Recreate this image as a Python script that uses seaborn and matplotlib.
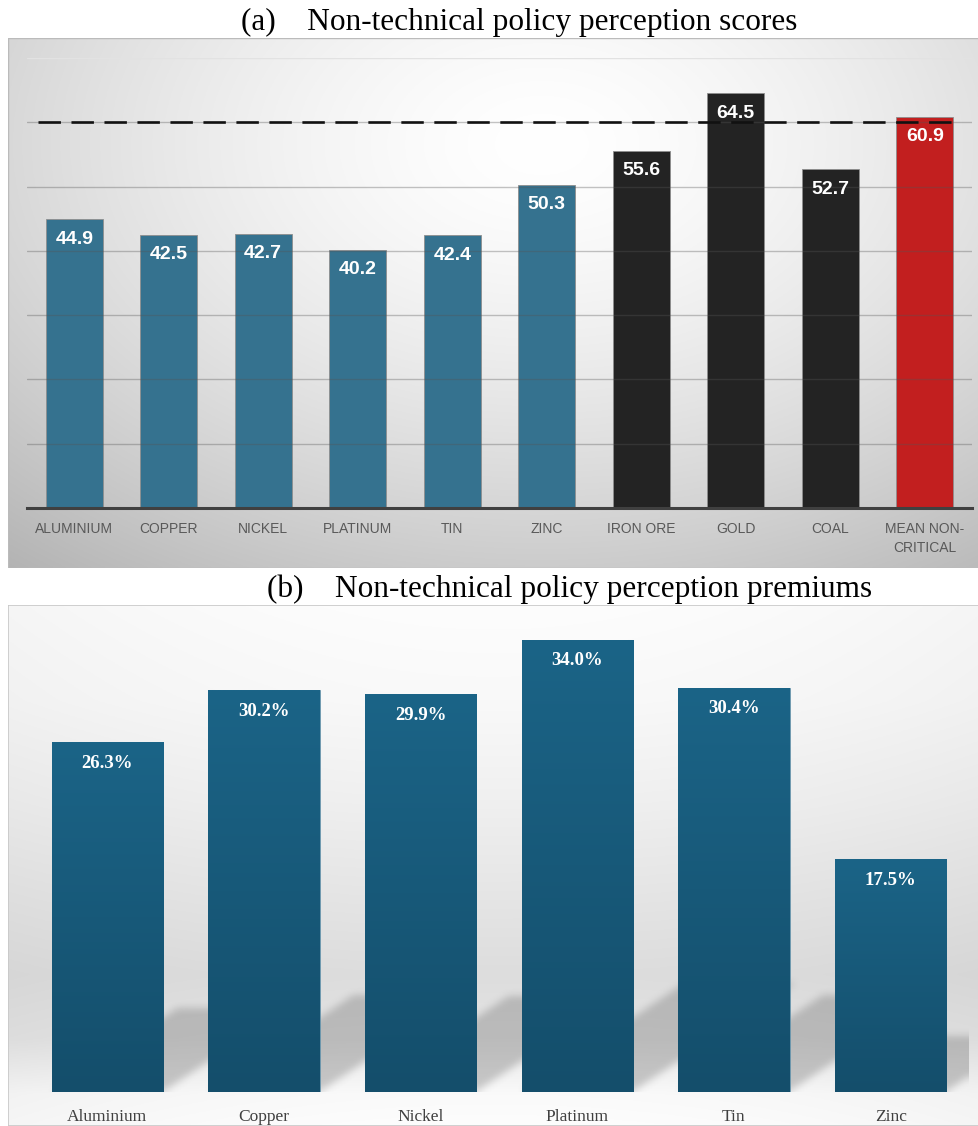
import numpy as np
import pandas as pd
import matplotlib
matplotlib.use("Agg")
import matplotlib.pyplot as plt
from matplotlib.patches import Rectangle
from matplotlib.path import Path
import seaborn as sns

# data, panel (a)
score_labels = ["ALUMINIUM", "COPPER", "NICKEL", "PLATINUM", "TIN", "ZINC",
                "IRON ORE", "GOLD", "COAL", "MEAN NON-\nCRITICAL"]
score_values = [44.9, 42.5, 42.7, 40.2, 42.4, 50.3, 55.6, 64.5, 52.7, 60.9]
score_groups = ["critical"] * 6 + ["non-critical"] * 3 + ["mean"]
mean_line = 60.0

# data, panel (b)
premium_labels = ["Aluminium", "Copper", "Nickel", "Platinum", "Tin", "Zinc"]
premium_values = [26.3, 30.2, 29.9, 34.0, 30.4, 17.5]

group_colors = {"critical": "#35728F", "non-critical": "#232323", "mean": "#C21F1F"}

sns.set_theme(style="white")
plt.rcParams["font.family"] = ["Liberation Serif", "DejaVu Serif"]

W, H = 979, 1126
fig = plt.figure(figsize=(W / 100, H / 100), dpi=100)

def fx(px):
    return px / W

def fy(px):
    return 1 - px / H

def box_blur(a, r):
    # separable box blur, applied twice for a softer edge
    for _ in range(2):
        for axis in (0, 1):
            pad = [(0, 0), (0, 0)]
            pad[axis] = (r, r)
            b = np.pad(a, pad, mode="edge")
            c = np.cumsum(b, axis=axis)
            c = np.insert(c, 0, 0, axis=axis)
            n = a.shape[axis]
            a = (np.take(c, np.arange(2 * r + 1, n + 2 * r + 1), axis=axis)
                 - np.take(c, np.arange(0, n), axis=axis)) / (2 * r + 1)
    return a

# ---------- panel (a) background ----------
bg_a = fig.add_axes([fx(8), fy(568), fx(971), 530 / H])
yy, xx = np.mgrid[0:1:300j, 0:1:500j]
r = np.sqrt(((xx - 0.55) / 0.75) ** 2 + ((yy - 0.2) / 0.9) ** 2)
shade = 1.0 - 0.24 * np.clip(r, 0, 1.2) ** 1.5
bg_a.imshow(np.dstack([shade] * 3), extent=[0, 1, 0, 1], aspect="auto", origin="upper")
bg_a.set_axis_off()
bg_a.add_patch(Rectangle((0, 0), 1, 1, transform=bg_a.transAxes, fill=False,
                         edgecolor="#BBBBBB", lw=1))

ax_a = fig.add_axes([fx(27), fy(508), fx(945), 450 / H])
ax_a.set_facecolor("none")
df_a = pd.DataFrame({"item": score_labels, "score": score_values, "group": score_groups})
sns.barplot(data=df_a, x="item", y="score", hue="item",
            palette=[group_colors[g] for g in score_groups],
            width=0.6, legend=False, ax=ax_a, saturation=1,
            edgecolor="#8E8E8E", linewidth=0.6)
ax_a.set_xlim(-0.5, len(score_labels) - 0.5)
ax_a.set_ylim(0, 70)
ax_a.set_yticks(np.arange(10, 70, 10))
ax_a.set_axisbelow(False)
ax_a.yaxis.grid(True, color="#555555", alpha=0.35, lw=1)
ax_a.axhline(70, color="#E2E2E2", lw=1, zorder=0)
ax_a.tick_params(axis="y", left=False, labelleft=False)
ax_a.tick_params(axis="x", bottom=False, pad=4)
for s in ["top", "right", "left"]:
    ax_a.spines[s].set_visible(False)
ax_a.spines["bottom"].set_color("#404040")
ax_a.spines["bottom"].set_linewidth(2.2)
ax_a.set_xlabel("")
ax_a.set_ylabel("")
ax_a.set_xticks(range(len(score_labels)))
ax_a.set_xticklabels(score_labels, family=["Liberation Sans Narrow", "Liberation Sans"],
                     fontsize=10, color="#595959", va="top", linespacing=1.45)

for i, v in enumerate(score_values):
    ax_a.annotate(f"{v:.1f}", (i, v), xytext=(0, -14.5), textcoords="offset points",
                  ha="center", va="center", color="white", fontsize=14,
                  fontweight="bold", family=["Liberation Sans", "DejaVu Sans"], zorder=5)

ax_a.plot([-0.38, 9.32], [mean_line, mean_line], color="#111111", lw=1.9,
          dashes=(8.5, 4), zorder=6)

fig.text(fx(519), fy(22), "(a)    Non-technical policy perception scores",
         ha="center", va="center", fontsize=22.5, color="black")

# ---------- panel (b) background ----------
bg_b = fig.add_axes([fx(8), 0, fx(971), 521 / H])
py = np.linspace(605, 1126, 300)
gray = np.interp(py, [605, 700, 800, 900, 975, 1040, 1095, 1126],
                 [253, 249, 240, 229, 221, 228, 250, 253]) / 255
px_ = np.linspace(0, 1, 500)
edge = 1.0 - 0.03 * (np.abs(px_ - 0.5) / 0.5) ** 2
shade_b = gray[:, None] * edge[None, :]
bg_b.imshow(np.dstack([shade_b] * 3), extent=[0, 1, 0, 1], aspect="auto", origin="upper")
bg_b.set_axis_off()
bg_b.add_patch(Rectangle((0, 0), 1, 1, transform=bg_b.transAxes, fill=False,
                         edgecolor="#C8C8C8", lw=1.2))

ax_b = fig.add_axes([fx(29), fy(1092), fx(940), 472 / H])
ax_b.set_facecolor("none")
df_b = pd.DataFrame({"item": premium_labels, "premium": premium_values})
sns.barplot(data=df_b, x="item", y="premium", color="#175A79", width=0.71,
            ax=ax_b, saturation=1, edgecolor="#6F9AB0", linewidth=0.6, zorder=3)
ax_b.set_xlim(-0.5, len(premium_labels) - 0.5)
ax_b.set_ylim(0, 35.5)
bars_b = [p for p in ax_b.patches if isinstance(p, Rectangle)]

# soft cast shadows behind the bars (sheared copy of each bar footprint)
nx, ny = 940, 472
gx = np.linspace(-0.5, 5.5, nx)
gy = np.linspace(35.5, 0, ny)
GX, GY = np.meshgrid(gx, gy)
pts = np.column_stack([GX.ravel(), GY.ravel()])
mask = np.zeros(GX.shape)
for p in bars_b:
    x0, w, h = p.get_x(), p.get_width(), p.get_height()
    sh = 0.24 * h
    s = 1.5 * sh * 13.3 / 156.7
    path = Path([(x0, 0), (x0 + w, 0), (x0 + w + s, sh), (x0 + s, sh), (x0, 0)])
    mask = np.maximum(mask, path.contains_points(pts).reshape(GX.shape))
mask = box_blur(mask, 4)
shadow = np.zeros((ny, nx, 4))
shadow[..., :3] = 0.45
shadow[..., 3] = 0.36 * mask
ax_b.imshow(shadow, extent=[-0.5, 5.5, 0, 35.5], aspect="auto", origin="upper", zorder=1)

# vertical gradient fill of bars
grad = np.linspace(0, 1, 256).reshape(-1, 1)
top_c = np.array([0x1B, 0x64, 0x87]) / 255
bot_c = np.array([0x14, 0x4E, 0x6B]) / 255
grad_img = top_c * (1 - grad[..., None]) + bot_c * grad[..., None]
for p in bars_b:
    x0, w, h = p.get_x(), p.get_width(), p.get_height()
    im = ax_b.imshow(grad_img, extent=[x0, x0 + w, 0, h], aspect="auto",
                     origin="upper", zorder=3.5)
    im.set_clip_path(p)
ax_b.set_xlim(-0.5, len(premium_labels) - 0.5)
ax_b.set_ylim(0, 35.5)

for i, v in enumerate(premium_values):
    ax_b.annotate(f"{v:.1f}%", (i, v), xytext=(0, -15), textcoords="offset points",
                  ha="center", va="center", color="white", fontsize=13.5,
                  fontweight="bold", zorder=6)

ax_b.tick_params(axis="y", left=False, labelleft=False)
ax_b.tick_params(axis="x", bottom=False, pad=6)
for s in ["top", "right", "left", "bottom"]:
    ax_b.spines[s].set_visible(False)
ax_b.set_xlabel("")
ax_b.set_ylabel("")
ax_b.set_xticks(range(len(premium_labels)))
ax_b.set_xticklabels(premium_labels, fontsize=12.5, color="#404040")

fig.text(fx(570), fy(589), "(b)    Non-technical policy perception premiums",
         ha="center", va="center", fontsize=22.5, color="black")

fig.savefig("out.png", dpi=100)
